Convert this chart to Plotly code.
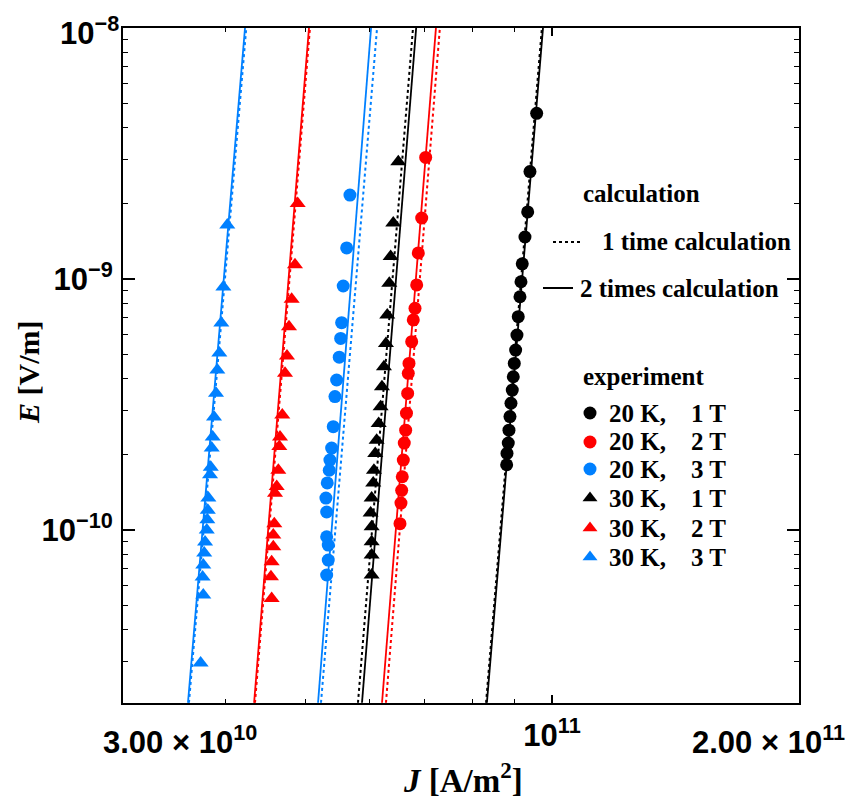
import plotly.graph_objects as go
import numpy as np

# ---------------- data (J in A/m^2, E in V/m) ----------------
labels = ["20 K,\u00a0\u00a0\u00a0 1 T", "20 K,\u00a0\u00a0\u00a0 2 T", "20 K,\u00a0\u00a0\u00a0 3 T",
          "30 K,\u00a0\u00a0\u00a0 1 T", "30 K,\u00a0\u00a0\u00a0 2 T", "30 K,\u00a0\u00a0\u00a0 3 T"]
colors = ["#000000", "#FF0000", "#0080FF", "#000000", "#FF0000", "#0080FF"]
symbols = ["circle", "circle", "circle", "triangle-up", "triangle-up", "triangle-up"]

J_20K_1T = [9.578e10, 9.400e10, 9.340e10, 9.269e10, 9.199e10, 9.166e10, 9.140e10, 9.096e10,
            9.063e10, 9.030e10, 8.995e10, 8.970e10, 8.945e10, 8.912e10, 8.887e10, 8.862e10,
            8.845e10, 8.813e10, 8.805e10]
E_20K_1T = [4.57e-9, 2.68e-9, 1.85e-9, 1.47e-9, 1.15e-9, 9.75e-10, 8.50e-10, 7.08e-10,
            5.98e-10, 5.21e-10, 4.61e-10, 4.08e-10, 3.61e-10, 3.20e-10, 2.83e-10, 2.50e-10,
            2.22e-10, 2.02e-10, 1.82e-10]

J_20K_2T = [7.015e10, 6.937e10, 6.871e10, 6.840e10, 6.808e10, 6.775e10, 6.745e10, 6.694e10,
            6.681e10, 6.669e10, 6.647e10, 6.632e10, 6.606e10, 6.588e10, 6.569e10, 6.558e10,
            6.545e10, 6.527e10]
E_20K_2T = [3.05e-9, 1.75e-9, 1.27e-9, 9.47e-10, 7.64e-10, 6.87e-10, 5.63e-10, 4.61e-10,
            4.21e-10, 3.50e-10, 2.92e-10, 2.50e-10, 2.22e-10, 1.90e-10, 1.63e-10, 1.44e-10,
            1.28e-10, 1.06e-10]

J_20K_3T = [5.672e10, 5.620e10, 5.566e10, 5.541e10, 5.526e10, 5.504e10, 5.464e10, 5.438e10,
            5.412e10, 5.388e10, 5.362e10, 5.352e10, 5.322e10, 5.302e10, 5.313e10, 5.313e10,
            5.337e10, 5.337e10, 5.313e10]
E_20K_3T = [2.16e-9, 1.33e-9, 9.38e-10, 6.70e-10, 5.80e-10, 4.88e-10, 3.96e-10, 3.40e-10,
            2.58e-10, 2.12e-10, 1.90e-10, 1.73e-10, 1.54e-10, 1.34e-10, 1.18e-10, 9.40e-11,
            8.71e-11, 7.59e-11, 6.62e-11]

J_30K_1T = [6.496e10, 6.405e10, 6.358e10, 6.334e10, 6.298e10, 6.275e10, 6.240e10, 6.205e10,
            6.182e10, 6.148e10, 6.113e10, 6.089e10, 6.067e10, 6.055e10, 6.028e10, 6.011e10,
            6.028e10, 6.028e10, 6.028e10, 6.028e10]
E_30K_1T = [2.93e-9, 1.67e-9, 1.23e-9, 9.61e-10, 7.19e-10, 5.54e-10, 4.47e-10, 3.72e-10,
            3.10e-10, 2.66e-10, 2.28e-10, 2.02e-10, 1.73e-10, 1.54e-10, 1.34e-10, 1.17e-10,
            1.03e-10, 8.98e-11, 7.95e-11, 6.62e-11]

J_30K_2T = [4.898e10, 4.861e10, 4.816e10, 4.780e10, 4.753e10, 4.727e10, 4.691e10, 4.661e10,
            4.652e10, 4.639e10, 4.618e10, 4.596e10, 4.587e10, 4.574e10, 4.574e10, 4.553e10,
            4.544e10, 4.553e10]
E_30K_2T = [2.00e-9, 1.14e-9, 8.30e-10, 6.46e-10, 4.93e-10, 4.21e-10, 2.87e-10, 2.35e-10,
            2.15e-10, 1.73e-10, 1.49e-10, 1.40e-10, 1.06e-10, 9.55e-11, 8.58e-11, 7.48e-11,
            6.51e-11, 5.34e-11]

J_30K_3T = [4.020e10, 3.976e10, 3.953e10, 3.931e10, 3.909e10, 3.895e10, 3.873e10, 3.859e10,
            3.848e10, 3.838e10, 3.830e10, 3.812e10, 3.806e10, 3.801e10, 3.795e10, 3.777e10,
            3.768e10, 3.758e10, 3.751e10, 3.758e10, 3.730e10]
E_30K_3T = [1.64e-9, 9.29e-10, 6.68e-10, 5.07e-10, 4.34e-10, 3.51e-10, 2.82e-10, 2.35e-10,
            2.12e-10, 1.78e-10, 1.66e-10, 1.34e-10, 1.20e-10, 1.10e-10, 1.00e-10, 8.96e-11,
            8.10e-11, 7.25e-11, 6.50e-11, 5.51e-11, 2.95e-11]

J_exp = [J_20K_1T, J_20K_2T, J_20K_3T, J_30K_1T, J_30K_2T, J_30K_3T]
E_exp = [E_20K_1T, E_20K_2T, E_20K_3T, E_30K_1T, E_30K_2T, E_30K_3T]

# calculation lines: J at E_calc ends
E_calc = [2.05e-11, 1.0e-8]
J_calc_2times = [[8.33e10, 9.75e10], [6.206e10, 7.22e10], [5.186e10, 6.018e10],
                 [5.867e10, 6.83e10], [4.334e10, 5.056e10], [3.60e10, 4.225e10]]
J_calc_1time = [[8.31e10, 9.72e10], [6.275e10, 7.30e10], [5.229e10, 6.12e10],
                [5.801e10, 6.77e10], [4.345e10, 5.07e10], [3.61e10, 4.24e10]]

x_range = [3e10, 2e11]
y_range = [2.046e-11, 1e-8]
y_major = [1e-10, 1e-9]
y_major_text = ["10<sup>\u221210</sup>", "10<sup>\u22129</sup>"]
y_top_text = "10<sup>\u22128</sup>"
x_major = [1e11]
x_major_text = ["10<sup>11</sup>"]
x_edge_text = ["3.00 \u00d7 10<sup>10</sup>", "2.00 \u00d7 10<sup>11</sup>"]
x_minor = [4e10, 5e10, 6e10, 7e10, 8e10, 9e10]
y_minor = [m * 10.0**p for p in (-11, -10, -9) for m in range(2, 10)]

fig = go.Figure()

for i in range(6):
    fig.add_trace(go.Scatter(x=J_calc_1time[i], y=E_calc, mode="lines",
                             line=dict(color=colors[i], width=2, dash="dot"),
                             showlegend=False, hoverinfo="skip"))
    fig.add_trace(go.Scatter(x=J_calc_2times[i], y=E_calc, mode="lines",
                             line=dict(color=colors[i], width=1.8),
                             showlegend=False, hoverinfo="skip"))

for i in range(6):
    fig.add_trace(go.Scatter(x=J_exp[i], y=E_exp[i], mode="markers",
                             marker=dict(symbol=symbols[i], size=13 if symbols[i] == "circle" else 14,
                                         color=colors[i], line=dict(width=0)),
                             showlegend=False, cliponaxis=True))

# ---------- inset legend on overlay axes (0..1) ----------
W_plot, H_plot = 676.0, 675.0
def px(xp):
    return (xp - 123) / W_plot
def py(yp):
    return (703 - yp) / H_plot

fig.add_trace(go.Scatter(x=[px(553), px(582)], y=[py(242), py(242)], xaxis="x2", yaxis="y2",
                         mode="lines", line=dict(color="black", width=2, dash="dot"),
                         showlegend=False, hoverinfo="skip"))
fig.add_trace(go.Scatter(x=[px(543), px(573)], y=[py(288), py(288)], xaxis="x2", yaxis="y2",
                         mode="lines", line=dict(color="black", width=2),
                         showlegend=False, hoverinfo="skip"))
row_y = [413, 442, 469, 498, 528, 557]
for i in range(6):
    fig.add_trace(go.Scatter(x=[px(590)], y=[py(row_y[i])], xaxis="x2", yaxis="y2",
                             mode="markers",
                             marker=dict(symbol=symbols[i], size=13, color=colors[i], line=dict(width=0)),
                             showlegend=False, hoverinfo="skip"))

leg_font = dict(family="Liberation Serif", size=25, color="black", weight=700)
annotations = [
    dict(text="calculation", x=px(581), y=py(193)),
    dict(text="1 time calculation", x=px(600), y=py(242)),
    dict(text="2 times calculation", x=px(578), y=py(288)),
    dict(text="experiment", x=px(581), y=py(377)),
]
for i in range(6):
    annotations.append(dict(text=labels[i], x=px(607), y=py(row_y[i])))
annots = []
for a in annotations:
    annots.append(dict(xref="paper", yref="paper", xanchor="left", yanchor="middle",
                       showarrow=False, font=leg_font, **a))

tick_font = dict(family="Liberation Sans", size=31, color="black", weight=700)
# top y tick label (kept inside the page)
annots.append(dict(xref="paper", yref="paper", x=(121 - 123) / W_plot, y=py(31),
                   xanchor="right", yanchor="middle", showarrow=False, font=tick_font,
                   text=y_top_text))
# edge x tick labels
annots.append(dict(xref="paper", yref="paper", x=(180 - 123) / W_plot, y=-0.022, yanchor="top",
                   xanchor="center", showarrow=False, font=tick_font, text=x_edge_text[0]))
annots.append(dict(xref="paper", yref="paper", x=(768 - 123) / W_plot, y=-0.022, yanchor="top",
                   xanchor="center", showarrow=False, font=tick_font, text=x_edge_text[1]))
# axis titles
annots.append(dict(xref="paper", yref="paper", x=(463 - 123) / W_plot, y=py(778),
                   xanchor="center", yanchor="middle", showarrow=False,
                   font=dict(family="Liberation Serif", size=33, color="black", weight=700),
                   text="<i>J</i> [A/m<sup>2</sup>]"))
annots.append(dict(xref="paper", yref="paper", x=(28 - 123) / W_plot, y=py(372),
                   xanchor="center", yanchor="middle", showarrow=False,
                   font=dict(family="Liberation Serif", size=30, color="black", weight=700),
                   textangle=-90, text="<i>E</i> [V/m]"))

# page body has an 8px default margin; the figure is sized to fit the 856x801 window
fig.update_layout(
    width=848, height=793,
    margin=dict(l=115, r=57, t=20, b=98),
    paper_bgcolor="white", plot_bgcolor="white",
    showlegend=False,
    annotations=annots,
    xaxis=dict(type="log", range=[np.log10(x_range[0]), np.log10(x_range[1])],
               tickmode="array", tickvals=x_major, ticktext=x_major_text,
               ticks="inside", ticklen=8, tickwidth=1.5, tickcolor="black",
               minor=dict(tickmode="array", tickvals=x_minor, ticks="inside", ticklen=4,
                          tickwidth=1.2, tickcolor="black", showgrid=False),
               showgrid=False, zeroline=False, showline=True, linecolor="black", linewidth=2,
               mirror="ticks", tickfont=tick_font, ticklabelstandoff=4),
    yaxis=dict(type="log", range=[np.log10(y_range[0]), np.log10(y_range[1])],
               tickmode="array", tickvals=y_major, ticktext=y_major_text,
               ticks="inside", ticklen=12, tickwidth=1.5, tickcolor="black",
               minor=dict(tickmode="array", tickvals=y_minor, ticks="inside", ticklen=5,
                          tickwidth=1.2, tickcolor="black", showgrid=False),
               showgrid=False, zeroline=False, showline=True, linecolor="black", linewidth=2,
               mirror="ticks", tickfont=tick_font, ticklabelstandoff=2),
    xaxis2=dict(overlaying="x", range=[0, 1], visible=False, fixedrange=True),
    yaxis2=dict(overlaying="y", range=[0, 1], visible=False, fixedrange=True),
)

fig.write_html("out.html")
